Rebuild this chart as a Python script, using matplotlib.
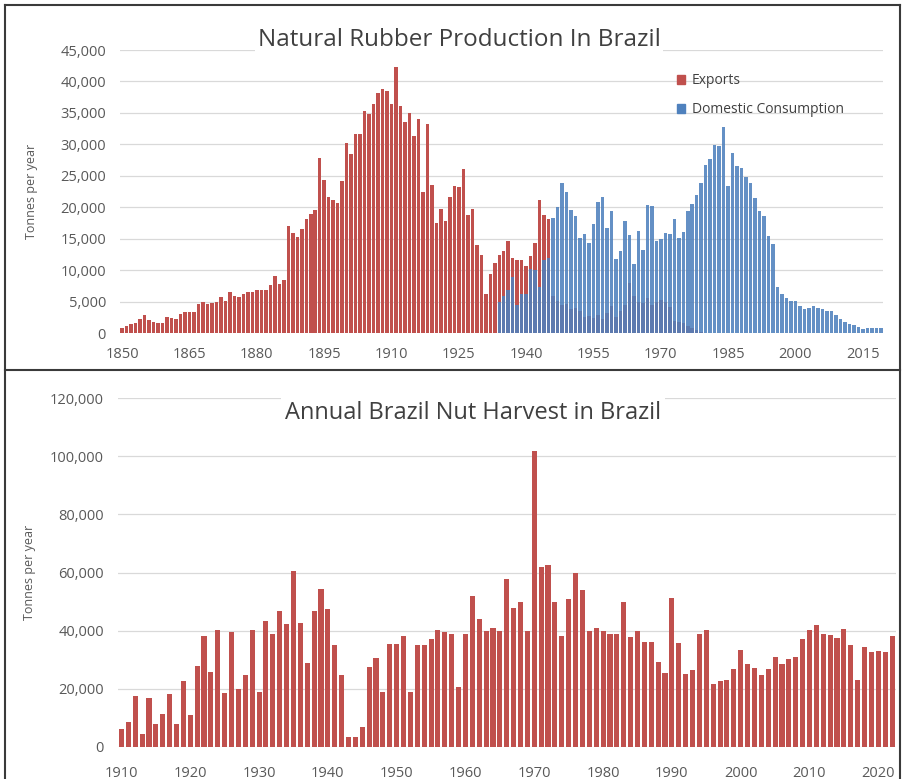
import matplotlib
matplotlib.use("Agg")
import matplotlib.pyplot as plt
import numpy as np
from matplotlib.lines import Line2D
from matplotlib.patches import Patch
from matplotlib.ticker import FuncFormatter, MultipleLocator

# ---- Configuration ----
plt.rcParams.update({
    "font.family": ["Open Sans", "DejaVu Sans"],
    "axes.edgecolor": "#D9D9D9",
    "xtick.color": "#595959",
    "ytick.color": "#595959",
})

RED = "#C0504D"
BLUE = "#4F81BD"
GRID = "#D9D9D9"
TEXT = "#595959"

# ---- Data: rubber (thousand tonnes per year) ----
EXPORT_START = 1850
exports_k = [
    # 1850-1886
    0.8, 1.2, 1.5, 1.6, 2.3, 2.9, 2.1, 1.8, 1.6, 1.6, 2.6, 2.4, 2.2, 3.1, 3.4, 3.4,
    3.4, 4.6, 5.0, 4.7, 4.8, 5.0, 5.7, 5.2, 6.6, 6.0, 5.7, 6.2, 6.6, 6.5, 6.9, 6.8,
    6.8, 7.6, 9.1, 7.9, 8.5,
    # 1887-1930
    17.0, 16.0, 15.3, 16.5, 18.1, 19.0, 19.6, 27.8, 24.3, 21.6, 21.2, 20.7, 24.2,
    30.2, 28.5, 31.6, 31.7, 35.3, 34.8, 36.4, 38.1, 38.8, 38.5, 36.5, 42.3, 36.1,
    33.5, 35.0, 31.3, 34.0, 22.5, 33.2, 23.5, 17.5, 19.7, 17.9, 21.6, 23.4, 23.3,
    26.1, 18.8, 19.7, 14.0, 12.5,
    # 1931-1945
    6.2, 9.4, 11.1, 12.4, 13.1, 14.7, 12.0, 11.7, 11.7, 10.7, 12.2, 14.4, 21.2,
    18.8, 18.1,
    # 1946-1979
    6.0, 5.2, 4.5, 4.6, 3.8, 4.0, 3.5, 2.6, 2.8, 2.5, 2.9, 2.2, 3.2, 4.4, 2.6, 3.5,
    4.5, 8.0, 6.0, 5.0, 4.8, 5.6, 4.5, 5.0, 5.3, 5.0, 4.2, 1.9, 1.8, 1.6, 1.2, 0.9,
    0.5, 0.2,
]

DOMESTIC_START = 1934
domestic_k = [
    # 1934-1945
    4.9, 5.9, 6.9, 9.0, 4.5, 6.3, 6.3, 10.2, 10.1, 7.3, 11.7, 11.9,
    # 1946-1966
    18.3, 20.1, 23.8, 22.4, 19.6, 18.7, 15.2, 15.8, 14.4, 17.4, 20.9, 21.6, 16.8,
    19.5, 11.8, 13.1, 17.8, 15.6, 11.0, 16.2, 13.3,
    # 1967-2019
    20.4, 20.3, 14.7, 14.9, 16.0, 15.7, 18.1, 15.2, 16.1, 19.4, 20.5, 21.9, 23.9,
    26.7, 27.7, 29.9, 29.8, 32.7, 23.4, 28.6, 26.5, 26.3, 24.8, 23.9, 21.5, 19.5,
    18.7, 15.5, 14.2, 7.3, 6.3, 5.6, 5.1, 5.1, 4.4, 3.8, 4.0, 4.4, 4.0, 3.9, 3.6,
    3.5, 2.9, 2.3, 1.8, 1.5, 1.3, 1.0, 0.7, 0.8, 0.9, 0.9, 0.9,
]
RUBBER_END = 2019
rubber_ticks = [1850, 1865, 1880, 1895, 1910, 1925, 1940, 1955, 1970, 1985, 2000, 2015]

# ---- Data: Brazil nut harvest (thousand tonnes per year) ----
NUT_START = 1910
nuts_k = [
    # 1910-1935
    6.1, 8.6, 17.5, 4.6, 16.7, 8.0, 11.2, 18.1, 8.0, 22.7, 11.0, 28.0, 38.1, 25.9,
    40.1, 18.4, 39.5, 20.0, 24.7, 40.1, 19.0, 43.3, 38.7, 46.9, 42.4, 60.4,
    # 1936-1963
    42.7, 29.0, 46.7, 54.4, 47.6, 34.9, 24.7, 3.4, 3.4, 7.0, 27.6, 30.5, 19.0,
    35.5, 35.5, 38.1, 19.0, 34.9, 34.9, 37.0, 40.4, 39.5, 39.0, 20.7, 39.0, 51.9,
    44.1, 39.8,
    # 1964-1991
    41.0, 39.8, 57.8, 47.7, 49.9, 39.8, 101.9, 61.8, 62.5, 49.9, 38.1, 50.9, 59.9,
    53.9, 39.8, 41.0, 39.8, 38.9, 38.9, 49.9, 37.9, 39.8, 36.1, 36.1, 29.3, 25.5,
    51.1, 35.8,
    # 1992-2022
    25.2, 26.4, 38.7, 40.2, 21.5, 22.7, 22.9, 26.7, 33.5, 28.4, 27.2, 24.7, 26.9,
    30.9, 28.6, 30.3, 30.9, 37.3, 40.2, 41.9, 38.7, 38.4, 37.6, 40.6, 34.9, 23.2,
    34.3, 32.7, 33.0, 32.6, 38.1,
]
nut_ticks = [1910, 1920, 1930, 1940, 1950, 1960, 1970, 1980, 1990, 2000, 2010, 2020]


def thousands(v, pos):
    return f"{int(v):,}"


def style_axes(ax, step, top, xlo, xhi, ticks, xpad):
    ax.set_xlim(xlo, xhi)
    ax.set_ylim(0, top)
    ax.yaxis.set_major_locator(MultipleLocator(step))
    ax.yaxis.set_major_formatter(FuncFormatter(thousands))
    ax.grid(axis="y", color=GRID, lw=0.9)
    ax.set_axisbelow(True)
    for side in ("top", "right", "left", "bottom"):
        ax.spines[side].set_visible(False)
    ax.set_xticks(ticks)
    ax.tick_params(axis="both", length=0, labelsize=10.5, colors=TEXT)
    ax.tick_params(axis="y", pad=10)
    ax.tick_params(axis="x", pad=xpad)
    ax.set_ylabel("Tonnes per year", fontsize=9, color=TEXT)


def plot_rubber(fig):
    ax = fig.add_axes([120 / 904, 1 - 333.3 / 779, 763 / 904, 283.3 / 779])
    ex_years = np.arange(EXPORT_START, EXPORT_START + len(exports_k))
    dom_years = np.arange(DOMESTIC_START, DOMESTIC_START + len(domestic_k))
    ax.bar(ex_years, np.array(exports_k) * 1000, width=0.78, color=RED, lw=0)
    ax.bar(dom_years, np.array(domestic_k) * 1000, width=0.78, color=BLUE, lw=0, alpha=0.88)
    style_axes(ax, 5000, 45000, EXPORT_START - 0.5, RUBBER_END + 0.5, rubber_ticks, 10)
    ax.yaxis.set_label_coords(-0.108, 0.5)
    fig.text(459 / 904, 1 - 40 / 779, "Natural Rubber Production In Brazil",
             ha="center", va="center", fontsize=17.5, color="#404040",
             bbox=dict(facecolor="white", edgecolor="none", pad=2))
    handles = [Patch(color=RED, label="Exports"), Patch(color=BLUE, label="Domestic Consumption")]
    fig.legend(handles=handles, loc="upper left", bbox_to_anchor=(664 / 904, 1 - 61 / 779),
               frameon=False, fontsize=10, handlelength=0.6, handleheight=0.6,
               handletextpad=0.5, labelspacing=1.0, labelcolor="#404040")


def plot_nuts(fig):
    ax = fig.add_axes([118 / 904, 1 - 747 / 779, 777.5 / 904, 349 / 779])
    years = np.arange(NUT_START, NUT_START + len(nuts_k))
    ax.bar(years, np.array(nuts_k) * 1000, width=0.74, color=RED, lw=0)
    style_axes(ax, 20000, 120000, NUT_START - 0.5, years[-1] + 0.5, nut_ticks, 13.5)
    ax.yaxis.set_label_coords(-0.105, 0.5)
    fig.text(473 / 904, 1 - 413 / 779, "Annual Brazil Nut Harvest in Brazil",
             ha="center", va="center", fontsize=17, color="#404040",
             bbox=dict(facecolor="white", edgecolor="none", pad=3))


def main():
    fig = plt.figure(figsize=(9.04, 7.79), dpi=100)
    plot_rubber(fig)
    plot_nuts(fig)

    # outer frame and divider between the two charts
    frame = dict(color="#3A3A3A", lw=1.5, transform=fig.transFigure)
    fig.add_artist(Line2D([5 / 904, 5 / 904], [0, 1 - 5 / 779], **frame))
    fig.add_artist(Line2D([5 / 904, 900 / 904], [1 - 5 / 779, 1 - 5 / 779], **frame))
    fig.add_artist(Line2D([900 / 904, 900 / 904], [0, 1 - 5 / 779], **frame))
    fig.add_artist(Line2D([5 / 904, 900 / 904], [1 - 370 / 779, 1 - 370 / 779], **frame))

    fig.savefig("out.png", dpi=100)


if __name__ == "__main__":
    main()
